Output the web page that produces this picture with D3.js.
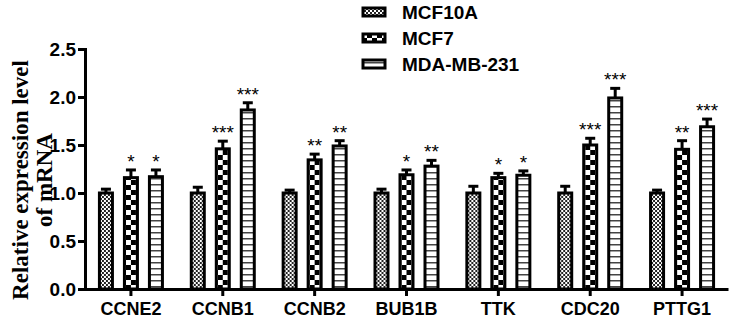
<!DOCTYPE html>
<html>
<head>
<meta charset="utf-8">
<script src="https://cdn.jsdelivr.net/npm/d3@7"></script>
<style>
  body { margin: 0; background: #fff; }
</style>
</head>
<body>
<div id="chart"></div>
<script>
const genes = ["CCNE2", "CCNB1", "CCNB2", "BUB1B", "TTK", "CDC20", "PTTG1"];
const series = ["MCF10A", "MCF7", "MDA-MB-231"];
const mcf10a = [1.0, 1.0, 1.0, 1.0, 1.0, 1.0, 1.0];
const mcf10aErr = [0.04, 0.06, 0.03, 0.04, 0.07, 0.07, 0.03];
const mcf7 = [1.16, 1.46, 1.345, 1.19, 1.16, 1.5, 1.455];
const mcf7Err = [0.08, 0.08, 0.06, 0.05, 0.045, 0.07, 0.09];
const mda = [1.17, 1.865, 1.49, 1.28, 1.185, 1.99, 1.69];
const mdaErr = [0.07, 0.075, 0.055, 0.06, 0.045, 0.10, 0.08];
const mcf7Sig = ["*", "***", "**", "*", "*", "***", "**"];
const mdaSig = ["*", "***", "**", "**", "*", "***", "***"];
const yTicks = [0, 0.5, 1.0, 1.5, 2.0, 2.5];

const width = 733, height = 320;
const sans = "Arial, 'Liberation Sans', sans-serif";

const rows = genes.map((g, i) => ({
  gene: g,
  bars: [
    {s: 0, v: mcf10a[i], e: mcf10aErr[i], sig: ""},
    {s: 1, v: mcf7[i], e: mcf7Err[i], sig: mcf7Sig[i]},
    {s: 2, v: mda[i], e: mdaErr[i], sig: mdaSig[i]}
  ]
}));

const svg = d3.select("#chart").append("svg")
    .attr("width", width)
    .attr("height", height)
    .style("font-family", sans);

const defs = svg.append("defs");
// fine checker
const p0 = defs.append("pattern").attr("id", "pat0")
    .attr("patternUnits", "userSpaceOnUse").attr("width", 4).attr("height", 4);
p0.append("rect").attr("width", 4).attr("height", 4).attr("fill", "#fff");
p0.append("rect").attr("width", 2).attr("height", 2).attr("fill", "#222");
p0.append("rect").attr("x", 2).attr("y", 2).attr("width", 2).attr("height", 2).attr("fill", "#222");
// coarse checker
const p1 = defs.append("pattern").attr("id", "pat1")
    .attr("patternUnits", "userSpaceOnUse").attr("width", 10).attr("height", 10);
p1.append("rect").attr("width", 10).attr("height", 10).attr("fill", "#fff");
p1.append("rect").attr("width", 5).attr("height", 5).attr("fill", "#000");
p1.append("rect").attr("x", 5).attr("y", 5).attr("width", 5).attr("height", 5).attr("fill", "#000");
// horizontal lines
const p2 = defs.append("pattern").attr("id", "pat2")
    .attr("patternUnits", "userSpaceOnUse").attr("width", 6).attr("height", 6);
p2.append("rect").attr("width", 6).attr("height", 6).attr("fill", "#fff");
p2.append("rect").attr("y", 4).attr("width", 6).attr("height", 1.5).attr("fill", "#444");

const x = d3.scaleBand().domain(genes).range([85, 728]);
const y = d3.scaleLinear().domain([0, 2.5]).range([289, 49]);
const offset = d3.scaleOrdinal().domain([0, 1, 2]).range([-25, 0, 25]);
const barW = 13;

// y axis
const yAxis = svg.append("g")
    .attr("transform", "translate(85,0)")
    .call(d3.axisLeft(y).tickValues(yTicks).tickFormat(d3.format(".1f")).tickSize(7).tickPadding(2));
yAxis.select(".domain").attr("stroke", "#000").attr("stroke-width", 3);
yAxis.selectAll(".tick line").attr("stroke-width", 3);
yAxis.selectAll("text").attr("font-size", 19).attr("font-weight", "bold").attr("font-family", sans).attr("fill", "#000");

// x axis
const xAxis = svg.append("g")
    .attr("transform", "translate(0,289)")
    .call(d3.axisBottom(x).tickSize(7).tickSizeOuter(0).tickPadding(6));
xAxis.select(".domain").attr("stroke", "#000").attr("stroke-width", 3);
xAxis.selectAll(".tick line").attr("stroke-width", 3);
xAxis.selectAll("text").attr("font-size", 18).attr("font-weight", "bold").attr("font-family", sans).attr("fill", "#000");

const groups = svg.append("g").selectAll("g")
    .data(rows)
    .join("g")
    .attr("transform", d => `translate(${x(d.gene) + x.bandwidth() / 2},0)`);

const bar = groups.selectAll("g")
    .data(d => d.bars)
    .join("g")
    .attr("transform", d => `translate(${offset(d.s)},0)`);

// error bars (upper only)
bar.append("line")
    .attr("x1", 0).attr("x2", 0)
    .attr("y1", d => y(d.v)).attr("y2", d => y(d.v + d.e))
    .attr("stroke", "#000").attr("stroke-width", 3);
bar.append("line")
    .attr("x1", -5).attr("x2", 5)
    .attr("y1", d => y(d.v + d.e)).attr("y2", d => y(d.v + d.e))
    .attr("stroke", "#000").attr("stroke-width", 3);

bar.append("rect")
    .attr("x", -barW / 2)
    .attr("width", barW)
    .attr("y", d => y(d.v))
    .attr("height", d => y(0) - y(d.v))
    .attr("fill", d => `url(#pat${d.s})`)
    .attr("stroke", "#000")
    .attr("stroke-width", 3);

bar.append("text")
    .attr("x", 0)
    .attr("y", d => y(d.v + d.e) - 2)
    .attr("text-anchor", "middle")
    .attr("font-size", 19)
    .attr("fill", "#000")
    .text(d => d.sig);

// legend
const legend = svg.append("g").attr("transform", "translate(362,0)");
const li = legend.selectAll("g")
    .data(series)
    .join("g")
    .attr("transform", (d, i) => `translate(0,${12 + i * 26})`);
li.append("rect")
    .attr("x", 1).attr("y", -4).attr("width", 22).attr("height", 8)
    .attr("fill", (d, i) => `url(#pat${i})`)
    .attr("stroke", "#000").attr("stroke-width", 3);
li.append("text")
    .attr("x", 40).attr("dy", "0.35em")
    .attr("font-size", 19).attr("font-weight", "bold")
    .attr("fill", "#000")
    .text(d => d);

// y label
const yl = svg.append("text")
    .attr("transform", "translate(0,180) rotate(-90)")
    .attr("text-anchor", "middle")
    .attr("font-family", "'Times New Roman', 'Liberation Serif', serif")
    .attr("font-weight", "bold")
    .attr("font-size", 23)
    .attr("fill", "#000");
yl.append("tspan").attr("x", 0).attr("y", 28).text("Relative expression level");
yl.append("tspan").attr("x", 0).attr("y", 52).text("of mRNA");
</script>
</body>
</html>
